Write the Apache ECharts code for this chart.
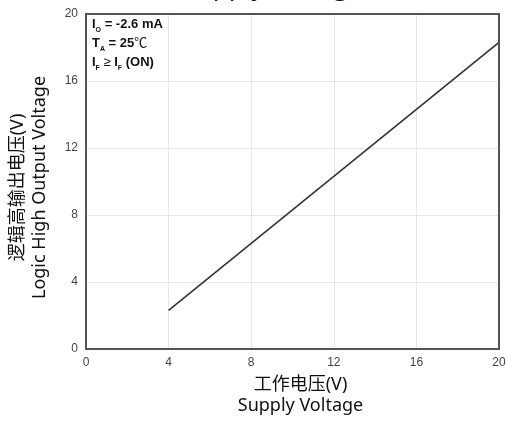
<!DOCTYPE html>
<html><head><meta charset="utf-8">
<script src="https://cdn.jsdelivr.net/npm/echarts@6/dist/echarts.min.js"></script>
<style>html,body{margin:0;padding:0;background:#fff}#c{width:506px;height:427px}</style>
</head><body><div id="c"></div>
<script>
const supplyVoltage = [4, 20];
const outputVoltage = [2.3, 18.3];
const xTicks = [0, 4, 8, 12, 16, 20];
const yTicks = [0, 4, 8, 12, 16, 20];

const chart = echarts.init(document.getElementById('c'), null, {renderer: 'canvas'});
const font = 'Arial, "Liberation Sans", "Noto Sans CJK SC", sans-serif';
const nameFont = '"Noto Sans", "Noto Sans CJK SC", sans-serif';
chart.setOption({
  animation: false,
  title: {
    text: 'Supply Voltage', left: 268, top: -30, textAlign: 'center',
    textStyle: {fontSize: 26, fontWeight: 'normal', color: '#111', fontFamily: nameFont}
  },
  grid: {left: 86, right: 7, top: 14, bottom: 78, outerBoundsMode: 'none', containLabel: false},
  xAxis: {
    type: 'value', min: 0, max: 20, interval: 4,
    name: '工作电压(V)\nSupply Voltage', nameLocation: 'middle', nameGap: 21,
    nameTextStyle: {fontSize: 18, color: '#111', fontFamily: nameFont, lineHeight: 21, padding: [0, 0, 0, 16]},
    axisLine: {show: true, lineStyle: {color: '#555', width: 2}},
    axisTick: {show: false},
    axisLabel: {fontSize: 12, color: '#444', margin: 8, fontFamily: font},
    splitLine: {show: true, lineStyle: {color: '#e6e6e6', width: 1}}
  },
  yAxis: {
    type: 'value', min: 0, max: 20, interval: 4,
    name: '逻辑高输出电压(V)\nLogic High Output Voltage', nameLocation: 'middle', nameGap: 35,
    nameTextStyle: {fontSize: 18, color: '#111', fontFamily: nameFont, lineHeight: 22, padding: [0, 12, 0, 0]},
    axisLine: {show: true, lineStyle: {color: '#555', width: 2}},
    axisTick: {show: false},
    axisLabel: {fontSize: 12, color: '#444', margin: 8, fontFamily: font},
    splitLine: {show: true, lineStyle: {color: '#e6e6e6', width: 1}}
  },
  graphic: [
    {type: 'rect', shape: {x: 86, y: 14, width: 413, height: 335}, style: {fill: 'none', stroke: '#555', lineWidth: 2}, z: 100},
    {type: 'text', left: 92, top: 18, z: 101, style: {
      rich: {
        b: {fontSize: 13, fontWeight: 'bold', fontFamily: font, fill: '#111', lineHeight: 19},
        s: {fontSize: 7, fontWeight: 'bold', fontFamily: font, fill: '#111', verticalAlign: 'bottom', padding: [4,0,0,0]},
        n: {fontSize: 13, fontFamily: font, fill: '#111', lineHeight: 19}
      },
      text: '{b|I}{s|O}{b| = -2.6 mA}\n{b|T}{s|A}{b| = 25}{n|℃}\n{b|I}{s|F}{n| ≥ }{b|I}{s|F}{b| (ON)}'
    }}
  ],
  series: [{
    type: 'line',
    data: supplyVoltage.map((x, i) => [x, outputVoltage[i]]),
    symbol: 'none',
    lineStyle: {color: '#333', width: 1.6}
  }]
});
</script></body></html>
